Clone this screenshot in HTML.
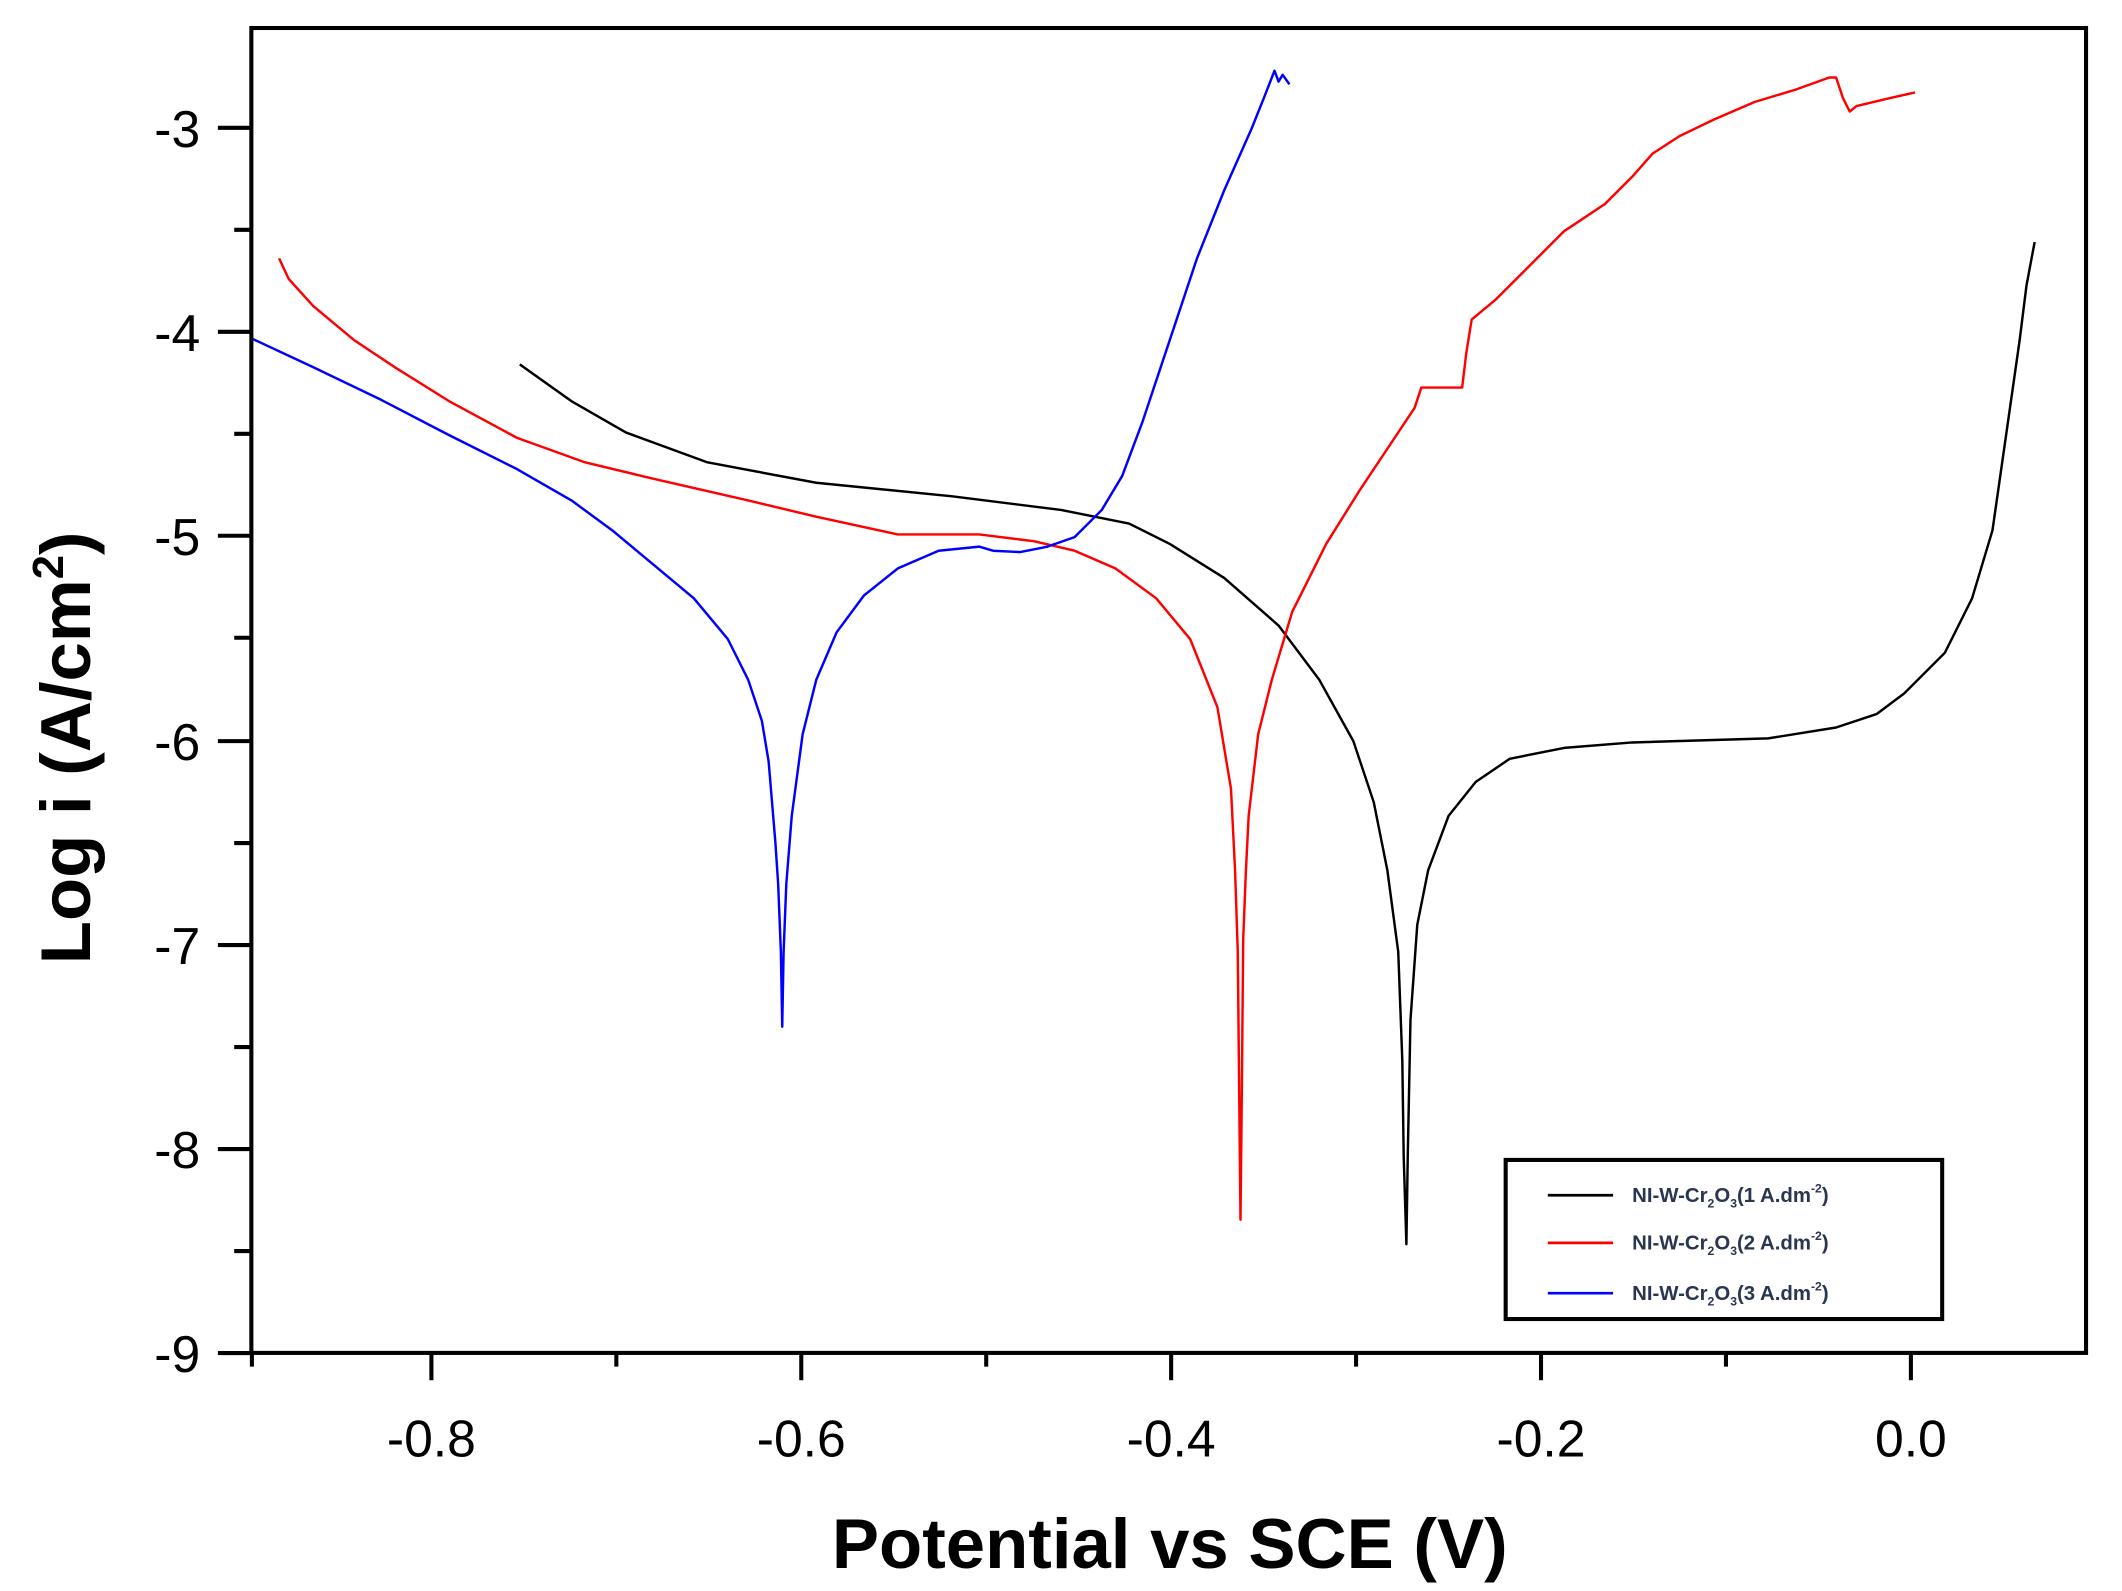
<!DOCTYPE html>
<html><head><meta charset="utf-8"><style>
html,body{margin:0;padding:0;background:#fff;}
svg{display:block;}
text{font-family:"Liberation Sans",Arial,sans-serif;}
</style></head><body>
<svg width="2122" height="1591" viewBox="0 0 1560 1170" xmlns="http://www.w3.org/2000/svg">
<rect width="1560" height="1170" fill="#fff"/>
<g fill="none" stroke-width="1.8" stroke-linejoin="round">
<polyline stroke="#000" points="382,268 420,295 460,318 520,340 600,355 700,365 780,375 830,385 860,400 900,425 940,460 970,500 995,545 1010,590 1020,640 1028,700 1031,780 1032,850 1034,915 1035,850 1037,750 1042,680 1050,640 1065,600 1085,575 1110,558 1150,550 1200,546 1300,543 1350,535 1380,525 1400,510 1430,480 1450,440 1465,390 1475,320 1485,250 1490,210 1496,178"/>
<polyline stroke="#f00" points="205,190 212,205 230,225 260,250 290,270 330,295 380,322 430,340 480,352 550,368 600,380 660,393 720,393 760,398 790,405 820,418 850,440 875,470 895,520 905,580 908,640 910,700 911,800 912,897 913,800 914,690 916,640 918,600 925,540 935,500 950,450 975,400 1000,360 1020,330 1040,300 1045,285 1075,285 1078,260 1082,235 1100,220 1120,200 1150,170 1180,150 1200,130 1215,113 1235,100 1260,88 1290,75 1320,66 1345,57 1350,57 1355,72 1360,82 1365,78 1390,72 1408,68"/>
<polyline stroke="#00f" points="185,249 230,270 280,294 330,320 380,345 420,368 450,390 480,415 510,440 535,470 550,500 560,530 565,560 570,620 572,650 574,700 575,755 576,700 578,650 582,600 590,540 600,500 615,465 635,438 660,418 690,405 720,402 730,405 750,406 770,402 790,395 810,375 825,350 840,310 860,250 880,190 900,140 920,95 930,70 937,52 940,60 943,55 948,62"/>
</g>
<rect x="184.6" y="20.6" width="1349.2" height="974.3" fill="none" stroke="#000" stroke-width="3"/>
<g stroke="#000" stroke-width="3">
<line x1="317" y1="995" x2="317" y2="1015"/><line x1="589" y1="995" x2="589" y2="1015"/><line x1="861" y1="995" x2="861" y2="1015"/><line x1="1133" y1="995" x2="1133" y2="1015"/><line x1="1405" y1="995" x2="1405" y2="1015"/>
<line x1="185" y1="995" x2="185" y2="1005"/><line x1="453" y1="995" x2="453" y2="1005"/><line x1="725" y1="995" x2="725" y2="1005"/><line x1="997" y1="995" x2="997" y2="1005"/><line x1="1269" y1="995" x2="1269" y2="1005"/>
<line x1="160" y1="94" x2="185" y2="94"/><line x1="160" y1="244" x2="185" y2="244"/><line x1="160" y1="394" x2="185" y2="394"/><line x1="160" y1="545" x2="185" y2="545"/><line x1="160" y1="695" x2="185" y2="695"/><line x1="160" y1="845" x2="185" y2="845"/><line x1="160" y1="995" x2="185" y2="995"/>
<line x1="172" y1="169" x2="185" y2="169"/><line x1="172" y1="319" x2="185" y2="319"/><line x1="172" y1="469" x2="185" y2="469"/><line x1="172" y1="620" x2="185" y2="620"/><line x1="172" y1="770" x2="185" y2="770"/><line x1="172" y1="920" x2="185" y2="920"/>
</g>
<g font-size="38" fill="#000" text-anchor="end">
<text x="147" y="108">-3</text><text x="147" y="258">-4</text><text x="147" y="408">-5</text><text x="147" y="559">-6</text><text x="147" y="709">-7</text><text x="147" y="859">-8</text><text x="147" y="1009">-9</text>
</g>
<g font-size="38" fill="#000" text-anchor="middle">
<text x="317" y="1071">-0.8</text><text x="589" y="1071">-0.6</text><text x="861" y="1071">-0.4</text><text x="1133" y="1071">-0.2</text><text x="1405" y="1071">0.0</text>
</g>
<text x="860" y="1153" font-size="52" font-weight="bold" text-anchor="middle">Potential vs SCE (V)</text>
<text transform="translate(66,550) rotate(-90)" font-size="52" font-weight="bold" text-anchor="middle">Log i (A/cm<tspan font-size="32" dy="-20">2</tspan><tspan dy="20">)</tspan></text>
<rect x="1107" y="853" width="321" height="117" fill="#fff" stroke="#000" stroke-width="3"/>
<line x1="1138" y1="879" x2="1186" y2="879" stroke="#000" stroke-width="2"/>
<line x1="1138" y1="914" x2="1186" y2="914" stroke="#f00" stroke-width="2"/>
<line x1="1138" y1="951" x2="1186" y2="951" stroke="#00f" stroke-width="2"/>
<g font-size="15" font-weight="bold" fill="#2a3550">
<text x="1200" y="884">NI-W-Cr<tspan font-size="9" dy="4">2</tspan><tspan dy="-4">O</tspan><tspan font-size="9" dy="4">3</tspan><tspan dy="-4">(1 A.dm</tspan><tspan font-size="9" dy="-7">-2</tspan><tspan dy="7">)</tspan></text>
<text x="1200" y="919">NI-W-Cr<tspan font-size="9" dy="4">2</tspan><tspan dy="-4">O</tspan><tspan font-size="9" dy="4">3</tspan><tspan dy="-4">(2 A.dm</tspan><tspan font-size="9" dy="-7">-2</tspan><tspan dy="7">)</tspan></text>
<text x="1200" y="956">NI-W-Cr<tspan font-size="9" dy="4">2</tspan><tspan dy="-4">O</tspan><tspan font-size="9" dy="4">3</tspan><tspan dy="-4">(3 A.dm</tspan><tspan font-size="9" dy="-7">-2</tspan><tspan dy="7">)</tspan></text>
</g>
</svg>
</body></html>
